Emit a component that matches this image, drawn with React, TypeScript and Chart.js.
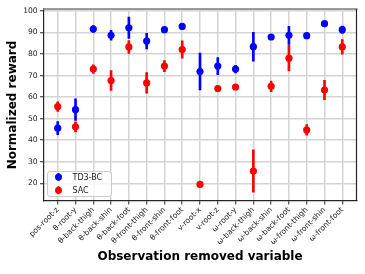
import React, { useEffect, useRef } from 'react';
import { Chart, registerables } from 'chart.js';

Chart.register(...registerables);

const categories = [
  'pos-root-z', 'θ-root-y', 'θ-back-thigh', 'θ-back-shin', 'θ-back-foot',
  'θ-front-thigh', 'θ-front-shin', 'θ-front-foot', 'v-root-x', 'v-root-z',
  'ω-root-y', 'ω-back-thigh', 'ω-back-shin', 'ω-back-foot', 'ω-front-thigh',
  'ω-front-shin', 'ω-front-foot',
];
const td3Mean = [45.6, 54.2, 91.6, 88.7, 92.2, 86.0, 91.3, 92.8, 71.9, 74.4, 73.0, 83.4, 87.9, 88.7, 88.5, 94.1, 91.3];
const td3Err = [3.0, 5.0, 1.6, 2.3, 5.0, 3.6, 1.0, 1.5, 8.6, 4.0, 1.8, 6.7, 1.0, 4.2, 0.8, 0.8, 1.7];
const sacMean = [55.6, 46.2, 73.0, 67.7, 83.3, 66.6, 74.4, 82.1, 19.5, 64.0, 64.7, 25.7, 65.0, 78.1, 44.8, 63.3, 83.3];
const sacErr = [2.2, 2.3, 2.0, 4.6, 3.0, 4.8, 2.6, 4.0, 0.6, 0.6, 0.6, 9.8, 2.5, 5.9, 2.5, 4.5, 3.4];
const yTicks = [20, 30, 40, 50, 60, 70, 80, 90, 100];
const seriesNames = ['TD3-BC', 'SAC'];
const seriesColors = ['#0000ff', '#ff0000'];

const FONT = 'DejaVu Sans';

const framePlugin = {
  id: 'frameAndLegend',
  afterDraw(chart: any) {
    const ctx = chart.ctx;
    const { left, top, right, bottom } = chart.chartArea;
    ctx.save();
    // top spine
    ctx.strokeStyle = '#9a9a9a';
    ctx.lineWidth = 2;
    ctx.beginPath();
    ctx.moveTo(left, top);
    ctx.lineTo(right + 1, top);
    ctx.stroke();
    // right spine
    ctx.strokeStyle = '#262626';
    ctx.lineWidth = 1.2;
    ctx.beginPath();
    ctx.moveTo(right, top);
    ctx.lineTo(right, bottom);
    ctx.stroke();

    // legend
    const bx = left + 4;
    const by = bottom - 29.5;
    const bw = 64;
    const bh = 25;
    const r = 2.5;
    ctx.beginPath();
    ctx.moveTo(bx + r, by);
    ctx.lineTo(bx + bw - r, by);
    ctx.quadraticCurveTo(bx + bw, by, bx + bw, by + r);
    ctx.lineTo(bx + bw, by + bh - r);
    ctx.quadraticCurveTo(bx + bw, by + bh, bx + bw - r, by + bh);
    ctx.lineTo(bx + r, by + bh);
    ctx.quadraticCurveTo(bx, by + bh, bx, by + bh - r);
    ctx.lineTo(bx, by + r);
    ctx.quadraticCurveTo(bx, by, bx + r, by);
    ctx.closePath();
    ctx.fillStyle = 'rgba(255,255,255,0.8)';
    ctx.fill();
    ctx.strokeStyle = '#cccccc';
    ctx.lineWidth = 1;
    ctx.stroke();

    seriesNames.forEach((name, i) => {
      const my = by + 5.5 + i * 13.2;
      const mx = bx + 11;
      ctx.strokeStyle = seriesColors[i];
      ctx.lineWidth = 2;
      ctx.beginPath();
      ctx.moveTo(mx, my - 4);
      ctx.lineTo(mx, my + 4);
      ctx.stroke();
      ctx.fillStyle = seriesColors[i];
      ctx.beginPath();
      ctx.arc(mx, my, 3.5, 0, Math.PI * 2);
      ctx.fill();
      ctx.fillStyle = '#222';
      ctx.font = `8px "${FONT}"`;
      ctx.textAlign = 'left';
      ctx.textBaseline = 'middle';
      ctx.fillText(name, bx + 25, my + 0.5);
    });
    ctx.restore();
  },
};

export default function App() {
  const canvasRef = useRef<HTMLCanvasElement | null>(null);

  useEffect(() => {
    const canvas = canvasRef.current;
    if (!canvas) return;
    const errData = (m: number[], e: number[]) =>
      m.map((v, i) => ({ x: i, y: [v - e[i], v + e[i]] }));
    const ptData = (m: number[]) => m.map((v, i) => ({ x: i, y: v }));

    const chart = new Chart(canvas, {
      type: 'bar',
      data: {
        datasets: [
          {
            type: 'bar',
            label: 'TD3-BC err',
            data: errData(td3Mean, td3Err) as any,
            backgroundColor: seriesColors[0],
            barThickness: 2,
            grouped: false,
            borderWidth: 0,
            order: 4,
          } as any,
          {
            type: 'scatter',
            label: seriesNames[0],
            data: ptData(td3Mean),
            backgroundColor: seriesColors[0],
            borderWidth: 0,
            pointRadius: 3.6,
            order: 3,
          } as any,
          {
            type: 'bar',
            label: 'SAC err',
            data: errData(sacMean, sacErr) as any,
            backgroundColor: seriesColors[1],
            barThickness: 2,
            grouped: false,
            borderWidth: 0,
            order: 2,
          } as any,
          {
            type: 'scatter',
            label: seriesNames[1],
            data: ptData(sacMean),
            backgroundColor: seriesColors[1],
            borderWidth: 0,
            pointRadius: 3.6,
            order: 1,
          } as any,
        ],
      },
      options: {
        animation: false,
        responsive: true,
        maintainAspectRatio: false,
        layout: { padding: { top: 9, right: 8.5, left: 0, bottom: 0 } },
        plugins: {
          legend: { display: false },
          tooltip: { enabled: false },
        },
        scales: {
          x: {
            type: 'linear',
            min: -0.8,
            max: 16.8,
            offset: false,
            afterBuildTicks: (scale: any) => {
              scale.ticks = categories.map((_, i) => ({ value: i }));
            },
            afterFit: (scale: any) => {
              scale.height = 73;
            },
            grid: {
              offset: false,
              color: '#d4d4d4',
              lineWidth: 1.5,
              tickColor: '#262626',
              tickLength: 3.5,
              tickWidth: 1,
            },
            border: { color: '#262626', width: 1.2 },
            ticks: {
              autoSkip: false,
              minRotation: 45,
              maxRotation: 45,
              padding: 1,
              color: '#222',
              font: { family: FONT, size: 7.6 },
              callback: (v: any) => categories[Math.round(Number(v))] ?? '',
            },
            title: {
              display: true,
              text: 'Observation removed variable',
              color: '#000',
              font: { family: FONT, size: 12, weight: 'bold' },
              padding: { top: 0, bottom: 10 },
            },
          },
          y: {
            type: 'linear',
            min: 11.8,
            max: 100.9,
            beginAtZero: false,
            afterBuildTicks: (scale: any) => {
              scale.ticks = yTicks.map((v) => ({ value: v }));
            },
            afterFit: (scale: any) => {
              scale.width = 43.5;
            },
            grid: {
              color: '#d4d4d4',
              lineWidth: 1.5,
              tickColor: '#262626',
              tickLength: 3.5,
              tickWidth: 1,
            },
            border: { color: '#262626', width: 1.2 },
            ticks: {
              padding: 2.3,
              color: '#222',
              font: { family: FONT, size: 7.6 },
            },
            title: {
              display: true,
              text: 'Normalized reward',
              color: '#000',
              font: { family: FONT, size: 12, weight: 'bold' },
              padding: { top: 6, bottom: 0 },
            },
          },
        },
      } as any,
      plugins: [framePlugin],
    });
    return () => chart.destroy();
  }, []);

  return (
    <div style={{ position: 'fixed', left: 0, top: 0, width: 365, height: 274, background: '#fff' }}>
      <canvas ref={canvasRef} />
    </div>
  );
}
